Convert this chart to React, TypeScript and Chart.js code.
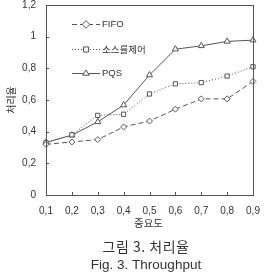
import React, { useEffect, useRef } from "react";
import { Chart, registerables } from "chart.js";

Chart.register(...registerables);

const xLabels = ["0,1", "0,2", "0,3", "0,4", "0,5", "0,6", "0,7", "0,8", "0,9"];
const yTickLabels = ["0", "0,2", "0,4", "0,6", "0,8", "1", "1,2"];
const fifoValues = [0.32, 0.335, 0.35, 0.43, 0.467, 0.542, 0.607, 0.607, 0.717];
const sourceValues = [0.33, 0.38, 0.503, 0.51, 0.638, 0.702, 0.71, 0.751, 0.81];
const pqsValues = [0.332, 0.378, 0.462, 0.568, 0.758, 0.921, 0.942, 0.97, 0.978];
const seriesNames = ["FIFO", "소스률제어", "PQS"];
const yTitle = "처리율";
const xTitle = "중요도";
const captionKo = "그림 3. 처리율";
const captionEn = "Fig. 3. Throughput";

const LINE = "#555555";
const TEXT = "#333333";
const NUM_FONT = "'Liberation Sans', Arial, sans-serif";
const KO_FONT = "'Noto Sans CJK KR', 'Liberation Sans', sans-serif";

function drawMarker(ctx: CanvasRenderingContext2D, style: string, r: number, x: number, y: number) {
  ctx.save();
  ctx.fillStyle = "#ffffff";
  ctx.strokeStyle = LINE;
  ctx.lineWidth = 1;
  ctx.setLineDash([]);
  ctx.beginPath();
  if (style === "rectRot") {
    const d = r * Math.SQRT2 * 0.9;
    ctx.moveTo(x, y - d);
    ctx.lineTo(x + d, y);
    ctx.lineTo(x, y + d);
    ctx.lineTo(x - d, y);
    ctx.closePath();
  } else if (style === "rect") {
    const s = r * Math.SQRT1_2 * 1.2;
    ctx.rect(x - s, y - s, s * 2, s * 2);
  } else {
    const h = r * 1.5;
    ctx.moveTo(x, y - r);
    ctx.lineTo(x + r * 0.95, y + h - r);
    ctx.lineTo(x - r * 0.95, y + h - r);
    ctx.closePath();
  }
  ctx.fill();
  ctx.stroke();
  ctx.restore();
}

const framePlugin = {
  id: "frame",
  afterDatasetsDraw(chart: any) {
    const { ctx, chartArea } = chart;
    const { left, top, right, bottom } = chartArea;
    ctx.save();
    ctx.strokeStyle = LINE;
    ctx.lineWidth = 1;
    ctx.strokeRect(Math.round(left) + 0.5, Math.round(top) + 0.5, Math.round(right - left), Math.round(bottom - top));
    const xs = chart.scales.x;
    const ys = chart.scales.y;
    ctx.beginPath();
    xs.ticks.forEach((_: any, i: number) => {
      const px = Math.round(xs.getPixelForTick(i)) + 0.5;
      ctx.moveTo(px, bottom);
      ctx.lineTo(px, bottom - 3);
    });
    ys.ticks.forEach((_: any, i: number) => {
      const py = Math.round(ys.getPixelForTick(i)) + 0.5;
      ctx.moveTo(left, py);
      ctx.lineTo(left + 3, py);
    });
    ctx.stroke();

    const rowY = [top + 18.5, top + 44, top + 68];
    chart.data.datasets.forEach((ds: any, i: number) => {
      const y = Math.round(rowY[i]) + 0.5;
      const x0 = left + 26;
      const x1 = left + 54;
      const mx = (x0 + x1) / 2;
      ctx.save();
      ctx.strokeStyle = ds.borderColor;
      ctx.lineWidth = 1;
      ctx.setLineDash(ds.borderDash || []);
      ctx.beginPath();
      ctx.moveTo(x0, y);
      ctx.lineTo(x1, y);
      ctx.stroke();
      ctx.restore();
      drawMarker(ctx, ds.pointStyle, ds.pointRadius, mx, y);
      ctx.save();
      ctx.fillStyle = TEXT;
      ctx.font = `9.5px ${i === 1 ? KO_FONT : NUM_FONT}`;
      ctx.textAlign = "left";
      ctx.textBaseline = "middle";
      ctx.fillText(ds.label, x1 + 2, y);
      ctx.restore();
    });
    ctx.restore();
  },
  afterDraw(chart: any) {
    const { ctx, width, chartArea } = chart;
    ctx.save();
    ctx.fillStyle = TEXT;
    ctx.textAlign = "center";
    ctx.textBaseline = "middle";
    ctx.font = `10px ${KO_FONT}`;
    ctx.save();
    ctx.translate(11, (chartArea.top + chartArea.bottom) / 2);
    ctx.rotate(-Math.PI / 2);
    ctx.fillText(yTitle, 0, 0);
    ctx.restore();
    ctx.font = `10.5px ${KO_FONT}`;
    ctx.fillText(xTitle, (chartArea.left + chartArea.right) / 2 - 1, 223.5);
    const cx = width / 2 + 13.5;
    ctx.font = `14px ${KO_FONT}`;
    (ctx as any).letterSpacing = "0.5px";
    ctx.fillText(captionKo, cx, 247);
    (ctx as any).letterSpacing = "0px";
    ctx.font = `13.5px ${NUM_FONT}`;
    ctx.fillText(captionEn, cx, 265.5);
    ctx.restore();
  },
};

export default function App() {
  const ref = useRef<HTMLCanvasElement | null>(null);

  useEffect(() => {
    if (!ref.current) return;
    const common = {
      borderColor: LINE,
      borderWidth: 1,
      pointBackgroundColor: "#ffffff",
      pointBorderColor: LINE,
      pointBorderWidth: 1,
      tension: 0,
      fill: false,
    };
    const chart = new Chart(ref.current, {
      type: "line",
      data: {
        labels: xLabels,
        datasets: [
          { ...common, label: seriesNames[0], data: fifoValues, borderDash: [5, 3], pointStyle: "rectRot", pointRadius: 3 },
          { ...common, label: seriesNames[1], data: sourceValues, borderDash: [1, 2], pointStyle: "rect", pointRadius: 3 },
          { ...common, label: seriesNames[2], data: pqsValues, borderDash: [], pointStyle: "triangle", pointRadius: 3.5 },
        ] as any,
      },
      plugins: [framePlugin],
      options: {
        animation: false,
        responsive: false,
        devicePixelRatio: 1,
        layout: { padding: { left: 0, right: 12, top: 0, bottom: 44 } },
        plugins: {
          legend: { display: false },
          tooltip: { enabled: false },
          title: { display: false },
        },
        scales: {
          x: {
            type: "category",
            offset: false,
            grid: { display: false, drawTicks: false, tickLength: 0 },
            border: { display: false },
            afterFit: (s: any) => {
              s.height = 35;
              s.paddingLeft = 0;
              s.paddingRight = 0;
            },
            ticks: {
              color: TEXT,
              font: { family: NUM_FONT, size: 10 },
              padding: 10,
              maxRotation: 0,
            },
            title: { display: false },
          },
          y: {
            min: 0,
            max: 1.2,
            grid: { display: false, drawTicks: false, tickLength: 0 },
            border: { display: false },
            afterFit: (s: any) => {
              s.width = 46;
              s.paddingTop = 5;
              s.paddingBottom = 0;
            },
            ticks: {
              stepSize: 0.2,
              color: TEXT,
              font: { family: NUM_FONT, size: 10 },
              padding: 10,
              callback: (_v: any, i: number) => yTickLabels[i],
            },
            title: { display: false },
          },
        },
      } as any,
    });
    return () => chart.destroy();
  }, []);

  return (
    <div style={{ position: "fixed", left: 0, top: 0, width: 265, height: 274, background: "#fff" }}>
      <canvas ref={ref} width={265} height={274} style={{ width: 265, height: 274, display: "block" }} />
    </div>
  );
}
